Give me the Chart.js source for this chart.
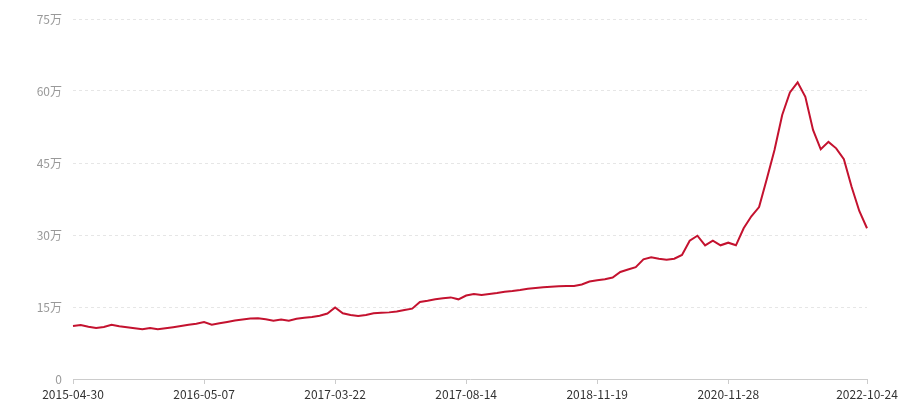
<!DOCTYPE html>
<html>
<head>
<meta charset="utf-8">
<script src="https://cdn.jsdelivr.net/npm/chart.js@4/dist/chart.umd.min.js"></script>
<style>
html,body{margin:0;padding:0;background:#fff;}
#wrap{width:900px;height:400px;position:relative;}
</style>
</head>
<body>
<div id="wrap"><canvas id="c" width="900" height="400"></canvas></div>
<script>
// Visible x tick labels and the category index where each appears
const tickLabels = ["2015-04-30","2016-05-07","2017-03-22","2017-08-14","2018-11-19","2020-11-28","2022-10-24"];
const tickIndex  = [0, 17, 34, 51, 68, 85, 103];
// Series values in 万 (10,000)
const values = [
  11.04, 11.25, 10.9, 10.65, 10.83, 11.31, 10.98, 10.77, 10.56, 10.35,
  10.63, 10.35, 10.56, 10.8, 11.04, 11.3, 11.52, 11.85, 11.31, 11.6,
  11.88, 12.19, 12.4, 12.6, 12.65, 12.44, 12.15, 12.4, 12.15, 12.56,
  12.77, 12.92, 13.19, 13.65, 14.9, 13.69, 13.33, 13.13, 13.33, 13.69,
  13.79, 13.88, 14.06, 14.38, 14.65, 16.04, 16.31, 16.63, 16.83, 17.0,
  16.6, 17.4, 17.7, 17.5, 17.7, 17.9, 18.19, 18.33, 18.54, 18.79,
  18.96, 19.13, 19.23, 19.33, 19.38, 19.38, 19.69, 20.31, 20.58, 20.77,
  21.15, 22.3, 22.8, 23.3, 24.94, 25.35, 25.06, 24.85, 25.06, 25.83,
  28.81, 29.85, 27.85, 28.81, 27.85, 28.4, 27.85, 31.4, 33.9, 35.83,
  41.67, 47.7, 55.0, 59.7, 61.8, 58.8, 51.9, 47.85, 49.4, 48.06,
  45.8, 40.06, 35.0, 31.4
];
const yTicks = [0, 15, 30, 45, 60, 75];

const categories = values.map((v, i) => {
  const k = tickIndex.indexOf(i);
  return k >= 0 ? tickLabels[k] : "";
});

const FONT = "'Noto Sans CJK SC', 'Noto Sans', sans-serif";

new Chart(document.getElementById('c'), {
  type: 'line',
  data: {
    labels: categories,
    datasets: [{
      data: values,
      borderColor: '#c4122f',
      borderWidth: 2,
      pointRadius: 0,
      pointHoverRadius: 0,
      tension: 0,
      fill: false
    }]
  },
  options: {
    responsive: false,
    animation: false,
    events: [],
    layout: { padding: { left: 0, right: 33, top: 19, bottom: 0 } },
    plugins: { legend: { display: false }, tooltip: { enabled: false } },
    scales: {
      x: {
        type: 'category',
        offset: false,
        border: { display: true, color: '#cccccc', width: 1 },
        grid: {
          drawOnChartArea: false,
          drawTicks: true,
          tickLength: 5,
          color: '#cccccc'
        },
        ticks: {
          autoSkip: false,
          maxRotation: 0,
          minRotation: 0,
          padding: 3,
          color: '#333333',
          font: { family: FONT, size: 12 },
          callback: function (val, idx) {
            const l = categories[idx];
            return l === "" ? null : l;
          }
        },
        afterFit: function (s) { s.height = 21; s.paddingLeft = 0; s.paddingRight = 0; }
      },
      y: {
        min: 0,
        max: 75,
        border: { display: false },
        grid: {
          drawTicks: false,
          color: function (ctx) { return ctx.tick && ctx.tick.value === 0 ? 'rgba(0,0,0,0)' : '#e6e6e6'; },
          lineWidth: 1
        },
        border: { display: false, dash: [3, 3] },
        afterBuildTicks: function (s) { s.ticks = yTicks.map(v => ({ value: v })); },
        ticks: {
          padding: 11,
          color: '#999999',
          font: { family: FONT, size: 12 },
          callback: function (v) { return v === 0 ? '0' : v + '万'; }
        },
        afterFit: function (s) { s.width = 73; s.paddingTop = 0; s.paddingBottom = 0; }
      }
    }
  }
});
</script>
</body>
</html>
